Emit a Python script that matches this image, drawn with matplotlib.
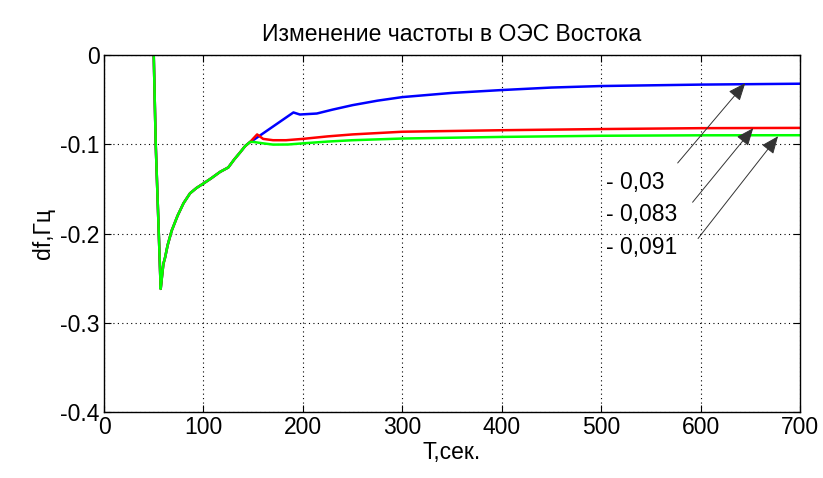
import numpy as np
import matplotlib.pyplot as plt

plt.rcParams['font.family'] = ['Liberation Sans', 'DejaVu Sans']
plt.rcParams['axes.unicode_minus'] = False

# common part of the three curves (t, df)
t_common = [50, 52, 57, 58.5, 59.7, 61.4, 64, 68, 74, 80, 86.5, 93, 100, 108,
            116.7, 125, 131, 137, 142, 147]
df_common = [0, -0.1, -0.262, -0.246, -0.234, -0.227, -0.213, -0.197, -0.18,
             -0.166, -0.155, -0.149, -0.144, -0.138, -0.131, -0.126, -0.117,
             -0.109, -0.102, -0.0974]

t_blue = [150, 190.5, 197, 214, 230, 250, 275, 300, 350, 400, 450, 500, 600, 700]
df_blue = [-0.0955, -0.0644, -0.0667, -0.0656, -0.0612, -0.0562, -0.0512,
           -0.0472, -0.0425, -0.0393, -0.0365, -0.0348, -0.0332, -0.0322]

t_red = [154, 160, 170, 183, 200, 225, 250, 300, 400, 500, 600, 700]
df_red = [-0.089, -0.094, -0.0955, -0.0955, -0.094, -0.0912, -0.089, -0.086,
          -0.0843, -0.083, -0.082, -0.0817]

t_green = [150, 160, 170, 185, 200, 225, 250, 300, 400, 500, 600, 700]
df_green = [-0.0974, -0.099, -0.1004, -0.1003, -0.099, -0.097, -0.0955,
            -0.0936, -0.0918, -0.0905, -0.0900, -0.0899]

labels = ['- 0,03', '- 0,083', '- 0,091']
label_pos = [(505, -0.1427), (505, -0.1787), (505, -0.2157)]
arrow_tail = [(577, -0.121), (592, -0.165), (597.5, -0.2056)]
arrow_head = [(645, -0.0315), (653, -0.082), (678, -0.091)]

fig = plt.figure(figsize=(8.23, 4.78), dpi=100)
ax = fig.add_axes([0.1264, 0.138, 0.8456, 0.747])

ax.plot(t_common + t_blue, df_common + df_blue, color='#0000ff', lw=1.8)
ax.plot(t_common + t_red, df_common + df_red, color='#ff0000', lw=1.8)
ax.plot(t_common + t_green, df_common + df_green, color='#00ff00', lw=1.8)

for lab, pos, tail, head in zip(labels, label_pos, arrow_tail, arrow_head):
    ax.text(pos[0], pos[1], lab, fontsize=16.5, va='center', ha='left')
    ax.annotate('', xy=head, xytext=tail,
                arrowprops=dict(arrowstyle='-|>,head_length=0.6,head_width=0.25',
                                color='#333333', lw=0.7,
                                mutation_scale=18, shrinkA=0, shrinkB=0))

ax.set_xlim(0, 700)
ax.set_ylim(-0.4, 0)
ax.set_xticks(np.arange(0, 701, 100))
ax.set_yticks([0, -0.1, -0.2, -0.3, -0.4])
ax.set_yticklabels(['0', '-0.1', '-0.2', '-0.3', '-0.4'])
ax.tick_params(direction='in', top=True, right=True, labelsize=16.5, length=5,
               pad=3)
ax.grid(True, linestyle=(0, (1, 3)), color='black', lw=0.8)
for s in ax.spines.values():
    s.set_linewidth(1.0)

ax.set_title('Изменение частоты в ОЭС Востока', fontsize=16.5, pad=10)
ax.set_xlabel('T,сек.', fontsize=16.5, labelpad=1)
ax.set_ylabel('df,Гц', fontsize=16.5, labelpad=4)

fig.savefig('out.png', dpi=100)
